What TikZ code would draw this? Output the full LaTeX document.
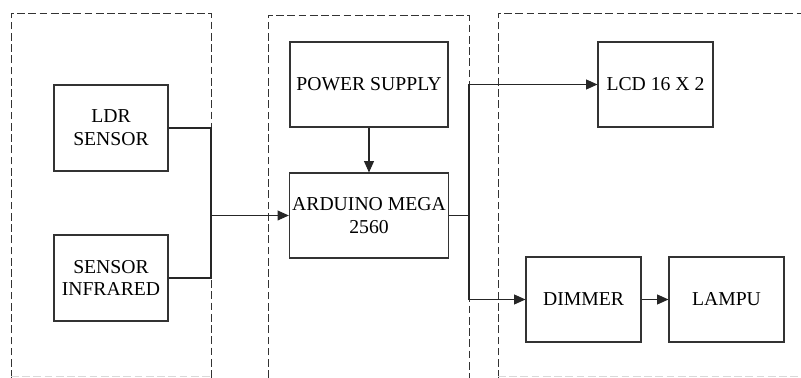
\documentclass[tikz,border=0pt]{standalone}
\usepackage{fontspec}
\setmainfont{Liberation Serif}
\usetikzlibrary{arrows.meta}

\begin{document}
\begin{tikzpicture}[
	block/.style={shape=rectangle, draw=black!80, line width=0.75pt, align=center, inner sep=2pt, font=\fontsize{14pt}{16.3pt}\selectfont},
	wire/.style={draw=black!85, line width=0.75pt},
	arr/.style={wire, -{Triangle[length=8pt, width=7pt]}},
	panel/.style={draw=black!80, line width=0.6pt, dash pattern=on 5.5pt off 2.5pt}]
	\useasboundingbox (0, 0) rectangle (20.025, 9.45);
	% Dashed panels:
	\draw[panel] (0.275, 0) -- (0.275, 9.125) -- (5.275, 9.125) -- (5.275, 0);
	\draw[panel] (6.7, 0) -- (6.7, 9.075) -- (11.725, 9.075) -- (11.725, 0);
	\draw[panel] (12.45, 0) -- (12.45, 9.125) -- (20.025, 9.125);
	\draw[panel, draw=black!15] (0.275, 0.05) -- (5.275, 0.05);
	\draw[panel, draw=black!15] (12.45, 0.05) -- (20.025, 0.05);
	% Blocks:
	\node[block, minimum width=2.85cm, minimum height=2.15cm] (ldr) at (2.775, 6.25){LDR\\SENSOR};
	\node[block, minimum width=2.85cm, minimum height=2.15cm] (sir) at (2.775, 2.5){SENSOR\\INFRARED};
	\node[block, minimum width=3.95cm, minimum height=2.125cm] (pwr) at (9.225, 7.3375){POWER SUPPLY};
	\node[block, minimum width=3.95cm, minimum height=2.125cm] (ard) at (9.225, 4.0625){ARDUINO MEGA\\2560};
	\node[block, minimum width=2.875cm, minimum height=2.125cm] (lcd) at (16.3875, 7.3375){LCD 16 X 2};
	\node[block, minimum width=2.875cm, minimum height=2.125cm] (dim) at (14.5875, 1.9625){DIMMER};
	\node[block, minimum width=2.875cm, minimum height=2.125cm] (lmp) at (18.1625, 1.9625){LAMPU};
	% Wires:
	\coordinate (jl) at (5.275, 4.0625);
	\coordinate (jr) at (11.725, 4.0625);
	\draw[wire] (ldr.east) -| (jl) |- (sir.east);
	\draw[arr] (jl) -- (ard.west);
	\draw[arr] (pwr) -- (ard);
	\draw[wire] (ard.east) -- (jr);
	\draw[arr] (jr) |- (lcd.west);
	\draw[arr] (jr) |- (dim.west);
	\draw[arr] (dim) -- (lmp);
\end{tikzpicture}
\end{document}
